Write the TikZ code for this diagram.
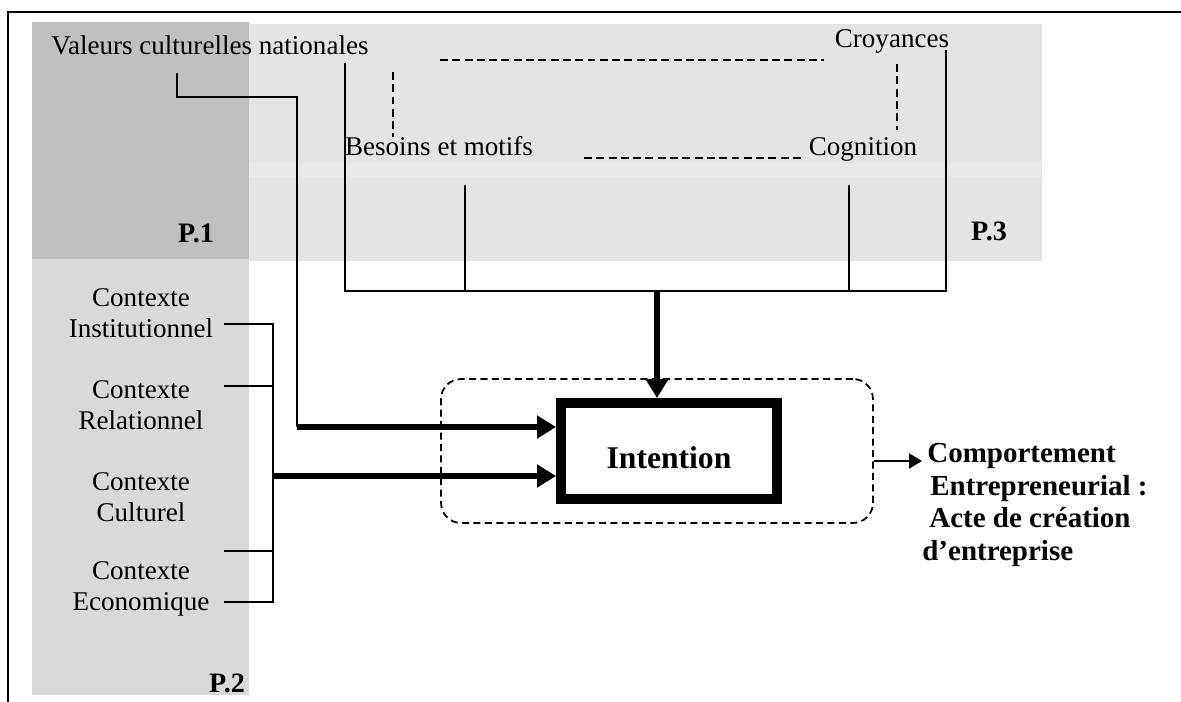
\documentclass[tikz,border=0pt]{standalone}
\usepackage{fontspec}
\setmainfont{Liberation Serif}
\usepackage{tikz}
\usetikzlibrary{positioning, arrows.meta}
\definecolor{grisfonce}{HTML}{C0C0C0}
\definecolor{grismoyen}{HTML}{D9D9D9}
\definecolor{grisclair}{HTML}{E4E4E4}
\definecolor{grisbande}{HTML}{E9E9E9}

\begin{document}
\begin{tikzpicture}[x=0.02cm, y=-0.02cm, node distance=1.84cm, on grid,
	txt/.style={font=\fontsize{15.4}{17.4}\selectfont, inner sep=0pt, align=center},
	gras/.style={font=\fontsize{16}{18}\selectfont\bfseries, inner sep=0pt},
	lien/.style={line width=1.2pt},
	pointille/.style={line width=1pt, dash pattern=on 4.5pt off 2.5pt},
	fleche/.style={line width=3.4pt, -{Triangle[length=0.38cm, width=0.44cm]}},
	sortie/.style={line width=1.2pt, -{Triangle[length=0.26cm, width=0.3cm]}}]
					\useasboundingbox (0,0) rectangle (1181,702);
					
					% Zones grisees
					\fill[grisclair] (249,24) rectangle (1042,261);
					\fill[grisbande] (249,163) rectangle (1042,178);
					\fill[grisfonce] (32,22) rectangle (249,259);
					\fill[grismoyen] (32,259) rectangle (249,695);
					\draw[lien] (8,702) -- (8,12) -- (1181,12);
					
					% Etiquettes des zones
					\node[gras] (lp1) at (196,233) {P.1};
					\node[gras] (lp3) at (989,231) {P.3};
					\node[gras] (lp2) at (227,683) {P.2};
					
					% Facteurs individuels
					\node[txt, anchor=base] (valeurs) at (210,55) {Valeurs culturelles nationales};
					\node[txt, anchor=base] (croyances) at (892,48) {Croyances};
					\node[txt, anchor=base] (besoins) at (439,156) {Besoins et motifs};
					\node[txt, anchor=base] (cognition) at (863,156) {Cognition};
					
					% Contextes
					\node[txt] (ctxinst) at (141,313) {Contexte\\Institutionnel};
					\node[txt, below=of ctxinst] (ctxrel) {Contexte\\Relationnel};
					\node[txt, below=of ctxrel] (ctxcult) {Contexte\\Culturel};
					\node[txt, below=of ctxcult] (ctxeco) {Contexte\\Economique};
					
					% Intention
					\node[draw, line width=5.7pt, minimum width=4.32cm, minimum height=1.92cm,
						text height=0.72cm, text depth=0pt, font=\fontsize{18}{20}\selectfont\bfseries] (intention) at (669,451) {Intention};
					\node[draw, line width=1pt, dash pattern=on 4pt off 2.5pt, rounded corners=0.4cm,
						minimum width=8.64cm, minimum height=2.88cm] (cadre) at (657,451) {};
					
					% Comportement
					\node[anchor=north west, inner sep=0pt, align=left, font=\fontsize{16.5}{18.5}\selectfont\bfseries] (comportement) at (922,443)
						{\hspace{0.1cm}Comportement\\\hspace{0.16cm}Entrepreneurial :\\\hspace{0.14cm}Acte de création\\d’entreprise};
					
					% Liens pointilles
					\coordinate (t1) at (440,60);
					\coordinate (t2) at (393,72);
					\coordinate (t3) at (584,158);
					\coordinate (t4) at (897,130);
					\draw[pointille, shorten >=0.22cm] (t1) -- (t1 -| croyances.west);
					\draw[pointille] (t2) -- (t2 |- besoins.north);
					\draw[pointille, shorten >=0.16cm] (t3) -- (t3 -| cognition.west);
					\draw[pointille, shorten <=0.2cm] (croyances.south -| t4) -- (t4);
					
					% Accolade du haut
					\coordinate (h1) at (345,63);
					\coordinate (h2) at (946,50);
					\coordinate (hb) at (465,185);
					\coordinate (hc) at (849,185);
					\coordinate (g) at (345,291);
					\coordinate (d) at (946,291);
					\coordinate (j) at (657,291);
					\draw[lien] (h1) -- (g) -- (d) -- (h2);
					\draw[lien] (hb) -- (hb |- g);
					\draw[lien] (hc) -- (hc |- g);
					\draw[fleche] (j) -- (j |- intention.north);
					
					% Valeurs vers intention
					\coordinate (v0) at (177,73);
					\coordinate (v1) at (297,97);
					\coordinate (v2) at (297,427);
					\draw[lien] (v0) |- (v1) -- (v2);
					\draw[fleche] (v2) -- (v2 -| intention.west);
					
					% Accolade des contextes
					\coordinate (i1) at (224,324);
					\coordinate (i2) at (224,386);
					\coordinate (i3) at (224,551);
					\coordinate (i4) at (224,602);
					\coordinate (b1) at (273,324);
					\coordinate (b4) at (273,602);
					\coordinate (b0) at (273,476);
					\draw[lien] (i1) -- (b1) -- (b4) -- (i4);
					\draw[lien] (i2) -- (i2 -| b1);
					\draw[lien] (i3) -- (i3 -| b1);
					\draw[fleche] (b0) -- (b0 -| intention.west);
					
					% Sortie
					\coordinate (depart) at ([yshift=-0.2cm]cadre.east);
					\draw[sortie] (depart) -- (depart -| comportement.west);
				\end{tikzpicture}
\end{document}
